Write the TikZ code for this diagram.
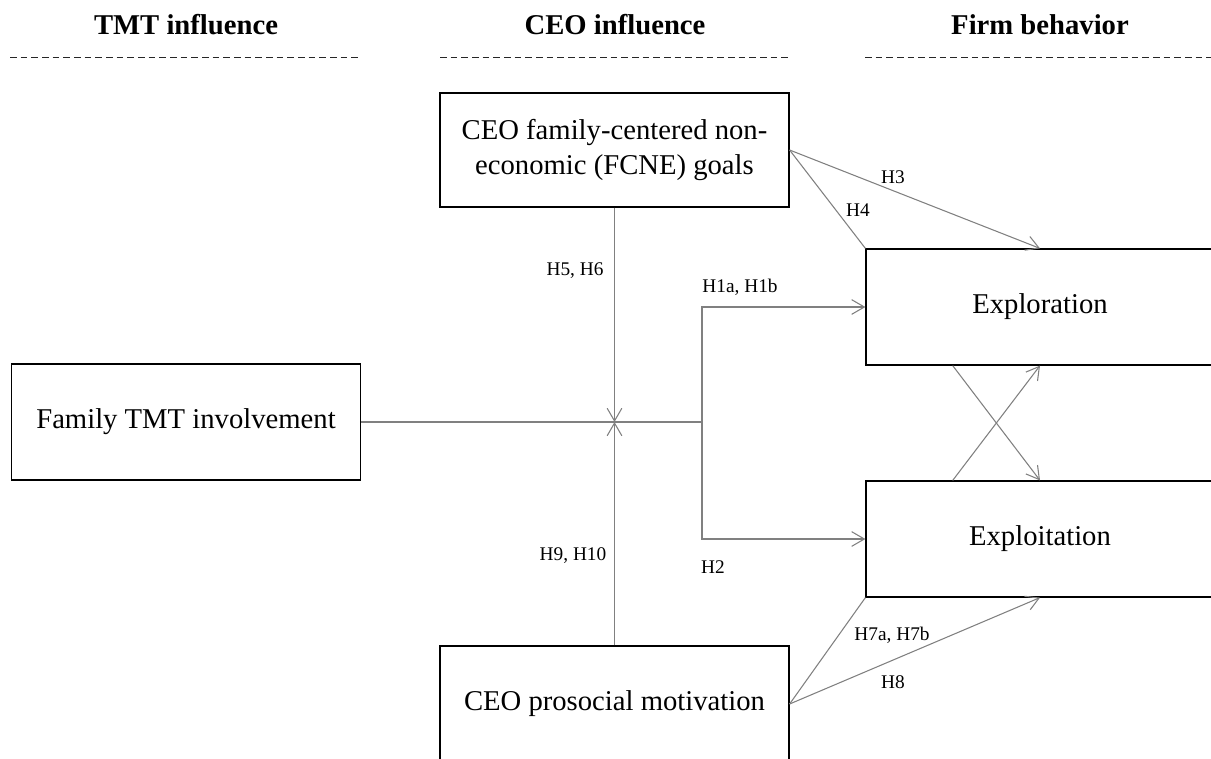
\documentclass[tikz,border=0pt]{standalone}
\usepackage{fontspec}
\setmainfont{Liberation Serif}
\usepackage{tikz}
\usetikzlibrary{arrows.meta, positioning, calc}

\begin{document}
\begin{tikzpicture}[
            x=0.75pt, y=-0.75pt,
            >={Straight Barb[length=9.5pt, width=11pt]},
            box/.style   ={draw, line width=0.9pt, minimum width=349*0.75pt,
                           minimum height=116*0.75pt, align=center, inner sep=0pt,
                           font=\fontsize{21.5}{26}\selectfont},
            head/.style  ={font=\fontsize{21.5}{25}\selectfont\bfseries},
            rule/.style  ={line width=0.6pt, draw=black!85, dash pattern=on 5pt off 3pt},
            link/.style  ={line width=0.8pt, draw=black!50},
            arr/.style   ={link, ->},
            hlbl/.style  ={font=\fontsize{14.5}{17}\selectfont, inner sep=0pt}
        ]
        \useasboundingbox (0,0) rectangle (1211,758);

        %% ---- column headers ---------------------------------------------------
        \node[head] (hTMT)  at (186,25)  {TMT influence};
        \node[head] (hCEO)  at (615,25)  {CEO influence};
        \node[head] (hFirm) at (1040,25) {Firm behavior};
        \draw[rule] (10,57)  -- (360,57);
        \draw[rule] (440,57) -- (790,57);
        \draw[rule] (865,57) -- (1211,57);

        %% ---- boxes ------------------------------------------------------------
        \node[box] (fam)     at (186,422)   {Family TMT involvement};
        \node[box, minimum height=114*0.75pt] (fcne) at (614.5,150)
            {CEO family-centered non-\\economic (FCNE) goals};
        \node[box] (pro)     at (614.5,704) {CEO prosocial motivation};
        \node[box, minimum width=348*0.75pt] (explor)  at (1040,307) {Exploration};
        \node[box, minimum width=348*0.75pt] (exploit) at (1040,539) {Exploitation};

        % junction points on the main path
        \coordinate (mod) at (614.5,422);
        \coordinate (jn)  at (702,422);

        %% ---- main effect and moderators ---------------------------------------
        \draw[link] (fam.east) -- (jn);
        \draw[arr] (jn) |- (explor.west);
        \draw[arr] (jn) |- (exploit.west);
        \draw[arr] (fcne.south) -- (mod);
        \draw[arr] (pro.north) -- (mod);

        %% ---- CEO goals / motivation to firm behavior --------------------------
        \draw[arr]  (fcne.east) -- (explor.north);
        \draw[link] (fcne.east) -- (explor.north west);
        \draw[arr]  (pro.east) -- (exploit.south);
        \draw[link] (pro.east) -- (exploit.south west);

        % crossing arrows between the two outcomes
        \coordinate (xa) at ($(explor.south west)!0.25!(explor.south east)$);
        \coordinate (xb) at ($(exploit.north west)!0.25!(exploit.north east)$);
        \draw[arr] (xa) -- (exploit.north);
        \draw[arr] (xb) -- (explor.south);

        %% ---- hypothesis labels ------------------------------------------------
        \node[hlbl] (lH3)  at (893,177) {H3};
        \node[hlbl] (lH4)  at (858,210) {H4};
        \node[hlbl] (lH56) at (575,271) {H5, H6};
        \node[hlbl] (lH1)  at (740,287) {H1a, H1b};
        \node[hlbl] (lH9)  at (573,556) {H9, H10};
        \node[hlbl] (lH2)  at (713,567) {H2};
        \node[hlbl] (lH7)  at (892,635) {H7a, H7b};
        \node[hlbl] (lH8)  at (893,682) {H8};
    \end{tikzpicture}
\end{document}
